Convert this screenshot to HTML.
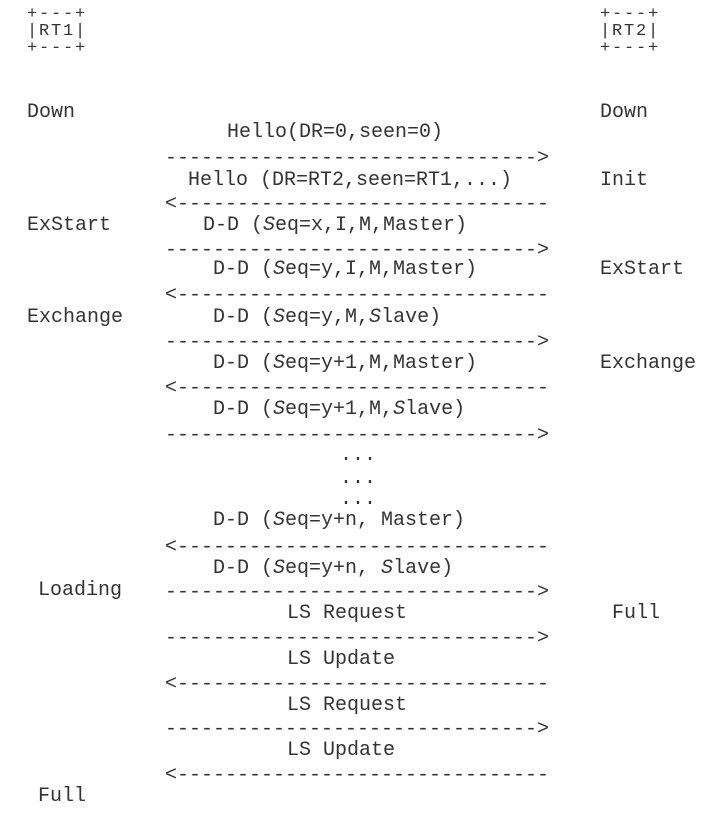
<!DOCTYPE html>
<html><head><meta charset="utf-8"><style>
html,body{margin:0;padding:0;background:#fff;}
body{width:712px;height:817px;position:relative;overflow:hidden;}
.t{position:absolute;font-family:"Liberation Mono",monospace;font-size:20px;line-height:22px;color:#333;white-space:pre;}
.b{font-size:17px;letter-spacing:1.8px;line-height:17px;}
.d{margin-top:2px;}
</style></head><body>
<div class="t b" style="left:27px;top:6px">+---+</div>
<div class="t b" style="left:27px;top:23px">|RT1|</div>
<div class="t b" style="left:27px;top:40px">+---+</div>
<div class="t b" style="left:600px;top:6px">+---+</div>
<div class="t b" style="left:600px;top:23px">|RT2|</div>
<div class="t b" style="left:600px;top:40px">+---+</div>

<div class="t" style="left:27px;top:102px">Down</div>
<div class="t" style="left:600px;top:102px">Down</div>
<div class="t" style="left:227px;top:122px">Hello(DR=0,seen=0)</div>
<div class="t d" style="left:165px;top:146px">-------------------------------&gt;</div>
<div class="t" style="left:188px;top:170px">Hello (DR=RT2,seen=RT1,...)</div>
<div class="t" style="left:600px;top:170px">Init</div>
<div class="t d" style="left:165px;top:192px">&lt;-------------------------------</div>
<div class="t" style="left:27px;top:215px">ExStart</div>
<div class="t" style="left:203px;top:215px">D-D (<i>S</i>eq=x,I,M,Master)</div>
<div class="t d" style="left:165px;top:238px">-------------------------------&gt;</div>
<div class="t" style="left:213px;top:259px">D-D (<i>S</i>eq=y,I,M,Master)</div>
<div class="t" style="left:600px;top:259px">ExStart</div>
<div class="t d" style="left:165px;top:283px">&lt;-------------------------------</div>
<div class="t" style="left:27px;top:307px">Exchange</div>
<div class="t" style="left:213px;top:307px">D-D (<i>S</i>eq=y,M,<i>S</i>lave)</div>
<div class="t d" style="left:165px;top:330px">-------------------------------&gt;</div>
<div class="t" style="left:213px;top:353px">D-D (<i>S</i>eq=y+1,M,Master)</div>
<div class="t" style="left:600px;top:353px">Exchange</div>
<div class="t d" style="left:165px;top:376px">&lt;-------------------------------</div>
<div class="t" style="left:213px;top:399px">D-D (<i>S</i>eq=y+1,M,<i>S</i>lave)</div>
<div class="t d" style="left:165px;top:423px">-------------------------------&gt;</div>
<div class="t" style="left:340px;top:445px">...</div>
<div class="t" style="left:340px;top:468px">...</div>
<div class="t" style="left:340px;top:489px">...</div>
<div class="t" style="left:213px;top:510px">D-D (<i>S</i>eq=y+n, Master)</div>
<div class="t d" style="left:165px;top:535px">&lt;-------------------------------</div>
<div class="t" style="left:213px;top:558px">D-D (<i>S</i>eq=y+n, <i>S</i>lave)</div>
<div class="t" style="left:38px;top:580px">Loading</div>
<div class="t d" style="left:165px;top:580px">-------------------------------&gt;</div>
<div class="t" style="left:287px;top:603px">LS Request</div>
<div class="t" style="left:612px;top:603px">Full</div>
<div class="t d" style="left:165px;top:626px">-------------------------------&gt;</div>
<div class="t" style="left:287px;top:649px">LS Update</div>
<div class="t d" style="left:165px;top:672px">&lt;-------------------------------</div>
<div class="t" style="left:287px;top:695px">LS Request</div>
<div class="t d" style="left:165px;top:717px">-------------------------------&gt;</div>
<div class="t" style="left:287px;top:740px">LS Update</div>
<div class="t d" style="left:165px;top:763px">&lt;-------------------------------</div>
<div class="t" style="left:38px;top:786px">Full</div>
</body></html>
